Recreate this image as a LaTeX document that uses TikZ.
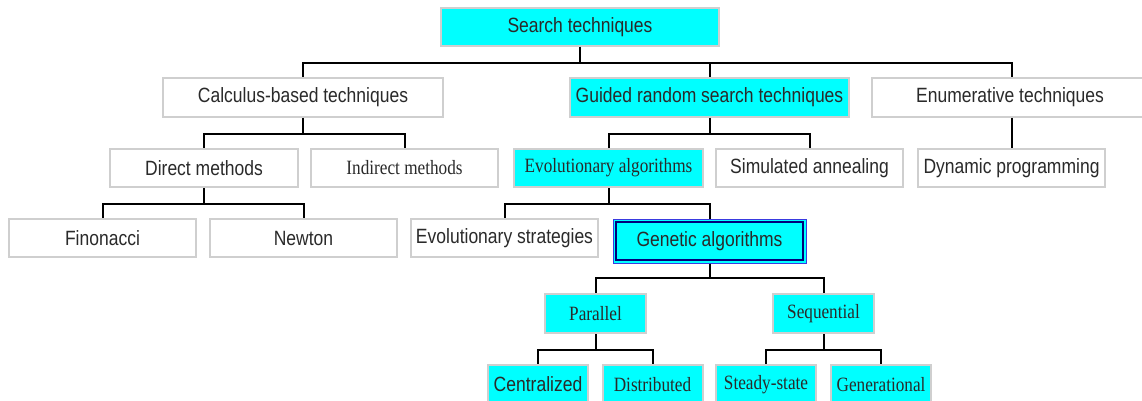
\documentclass[tikz,border=0pt]{standalone}
\usepackage{fontspec}
\usepackage{graphicx}
\setmainfont{Liberation Sans}
\newfontfamily\serifface{Liberation Serif}
\definecolor{boxgray}{HTML}{CFCFCF}
\definecolor{cyanfill}{HTML}{00FFFF}
\definecolor{txt}{HTML}{2A2A2A}
\definecolor{gaouter}{HTML}{3A3AE0}
\definecolor{gainner}{HTML}{00007A}
\newcommand\ST[1]{\scalebox{1}[1.18]{\fontsize{17.5}{20}\selectfont #1}}
\newcommand\RT[1]{\scalebox{1}[1.18]{\fontsize{17.2}{20}\selectfont\serifface #1}}
\tikzset{
  tbox/.style={rectangle, draw=boxgray, line width=2pt, fill=white, inner sep=0pt, text=txt},
  cbox/.style={tbox, fill=cyanfill},
  gabox/.style={rectangle, fill=cyanfill, draw=gaouter, line width=1pt, inner sep=0pt, text=txt},
  gaframe/.style={draw=gainner, line width=2.5pt},
  conn/.style={draw=black, line width=2pt}
}
\begin{document}
\begin{tikzpicture}[x=1pt,y=-1pt]
\useasboundingbox (0,0) rectangle (1142,401);
% level 0
\node[cbox, minimum width=278pt, minimum height=38pt] (search) at (580,27) {\ST{Search techniques}};
% level 1
\node[tbox, minimum width=280pt, minimum height=39pt] (calc) at (303,97.5) {\ST{Calculus-based techniques}};
\node[cbox, minimum width=279pt, minimum height=39pt] (guided) at (709.5,97.5) {\ST{Guided random search techniques}};
\node[tbox, minimum width=276pt, minimum height=39pt] (enum) at (1010,97.5) {\ST{Enumerative techniques}};
% level 2
\node[tbox, minimum width=188pt, minimum height=38pt] (direct) at (204,168) {\ST{Direct methods}};
\node[tbox, minimum width=187pt, minimum height=38pt] (indirect) at (404.5,168) {\RT{Indirect methods}};
\node[cbox, minimum width=189pt, minimum height=38pt] (evol) at (608.5,168) {\RT{Evolutionary algorithms}};
\node[tbox, minimum width=187pt, minimum height=38pt] (sim) at (809.5,168) {\ST{Simulated annealing}};
\node[tbox, minimum width=187pt, minimum height=38pt] (dyn) at (1011.5,168) {\ST{Dynamic programming}};
% level 3
\node[tbox, minimum width=187pt, minimum height=38pt] (fin) at (102.5,238) {\ST{Finonacci}};
\node[tbox, minimum width=187pt, minimum height=38pt] (newton) at (303.5,238) {\ST{Newton}};
\node[tbox, minimum width=187pt, minimum height=38pt] (es) at (504.5,238) {\ST{Evolutionary strategies}};
\node[gabox, minimum width=193pt, minimum height=44pt] (ga) at (709.5,241) {\ST{Genetic algorithms}};
\draw[gaframe] ([xshift=3.5pt,yshift=-3.5pt]ga.north west) rectangle ([xshift=-3.5pt,yshift=3.5pt]ga.south east);
% level 4
\node[cbox, minimum width=101pt, minimum height=39pt] (par) at (595.5,313.5) {\RT{Parallel}};
\node[cbox, minimum width=101pt, minimum height=39pt] (seq) at (823.5,313.5) {\RT{Sequential}};
% level 5
\node[cbox, minimum width=100pt, minimum height=39pt] (cen) at (538,384.5) {\ST{Centralized}};
\node[cbox, minimum width=100pt, minimum height=39pt] (dis) at (652.5,384.5) {\RT{Distributed}};
\node[cbox, minimum width=100pt, minimum height=39pt] (ss) at (766,384.5) {\RT{Steady-state}};
\node[cbox, minimum width=100pt, minimum height=39pt] (gen) at (881,384.5) {\RT{Generational}};
% connectors
\draw[conn] (search.south) -- ++(0,16) -| (calc.north);
\draw[conn] (search.south) -- ++(0,16) -| (guided.north);
\draw[conn] (search.south) -- ++(0,16) -| (dyn.north |- enum.north);
\draw[conn] (calc.south) -- ++(0,16) -| (direct.north);
\draw[conn] (calc.south) -- ++(0,16) -| (indirect.north);
\draw[conn] (guided.south) -- ++(0,16) -| (evol.north);
\draw[conn] (guided.south) -- ++(0,16) -| (sim.north);
\draw[conn] (dyn.north |- enum.south) -- (dyn.north);
\draw[conn] (direct.south) -- ++(0,16) -| (fin.north);
\draw[conn] (direct.south) -- ++(0,16) -| (newton.north);
\draw[conn] (evol.south) -- ++(0,16) -| (es.north);
\draw[conn] (evol.south) -- ++(0,16) -| (ga.north);
\draw[conn] (ga.south) -- ++(0,14) -| (par.north);
\draw[conn] (ga.south) -- ++(0,14) -| (seq.north);
\draw[conn] (par.south) -- ++(0,16) -| (cen.north);
\draw[conn] (par.south) -- ++(0,16) -| (dis.north);
\draw[conn] (seq.south) -- ++(0,16) -| (ss.north);
\draw[conn] (seq.south) -- ++(0,16) -| (gen.north);
\end{tikzpicture}
\end{document}
